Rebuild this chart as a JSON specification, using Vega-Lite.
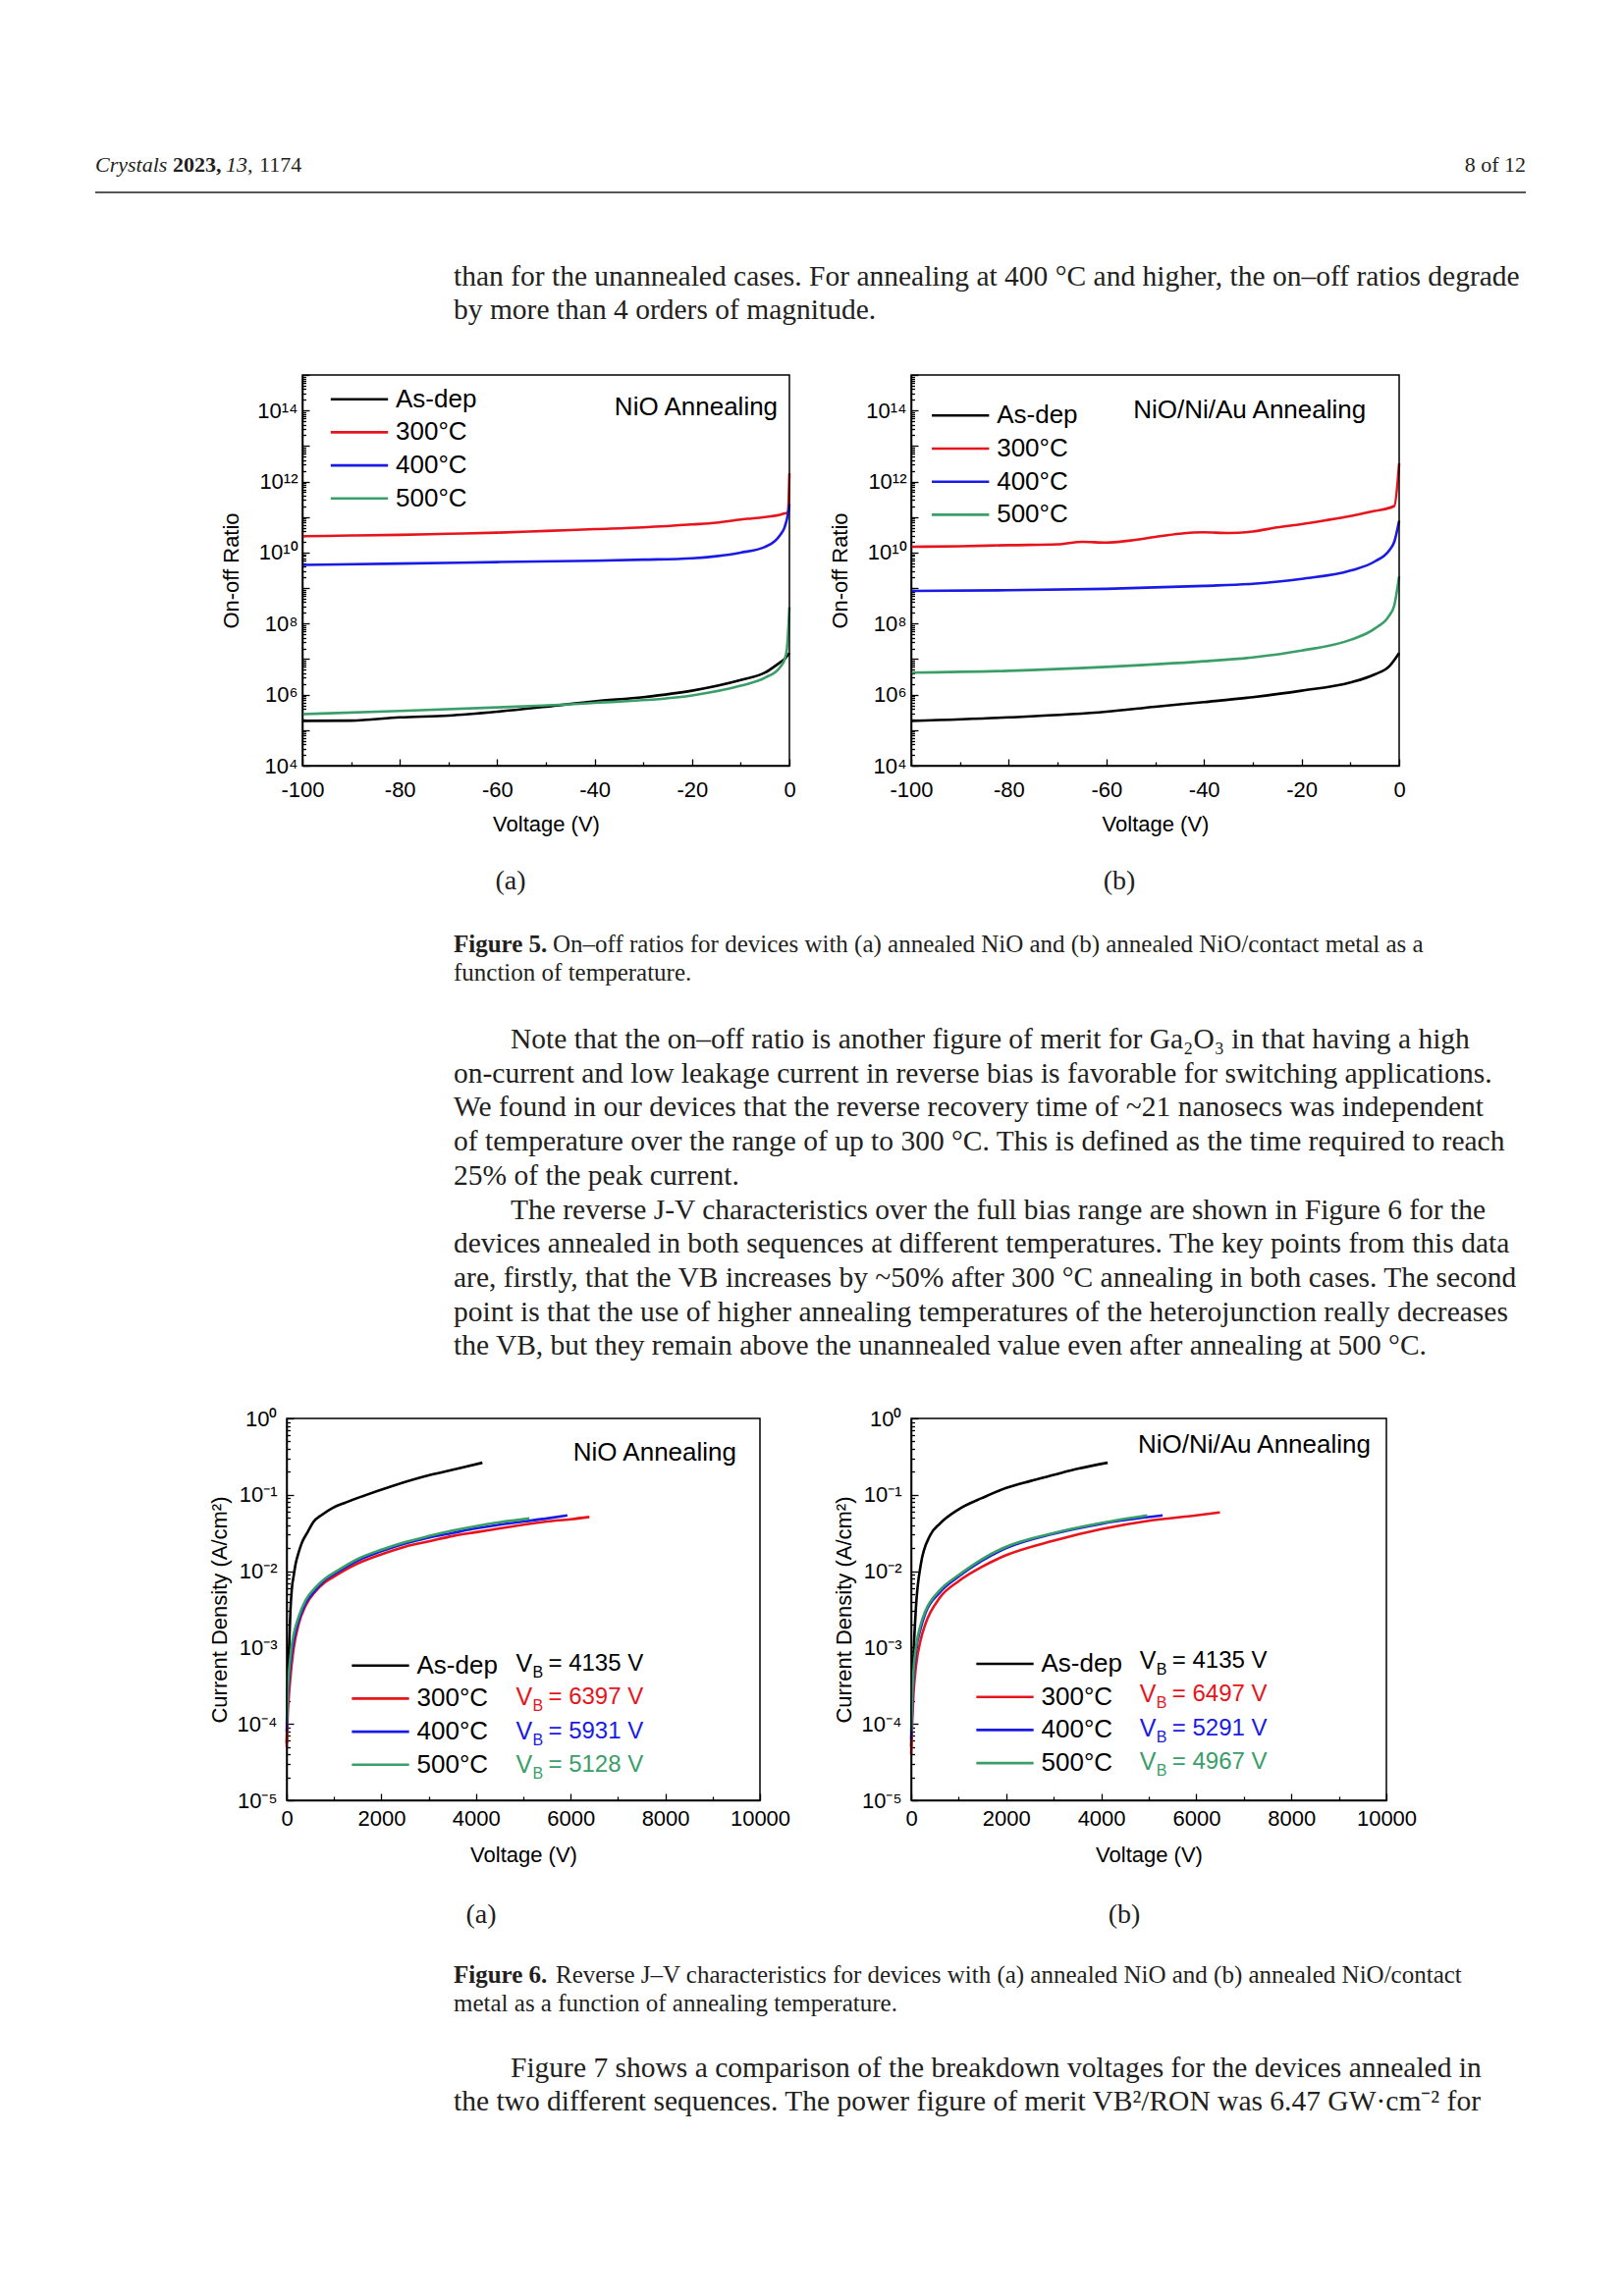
{
  "$schema": "https://vega.github.io/schema/vega-lite/v6.json",
  "background": "white",
  "padding": 0,
  "spacing": 0,
  "bounds": "flush",
  "config": {
    "view": {"stroke": null},
    "axis": {
      "labelFont": "Liberation Sans", "labelFontSize": 22, "labelColor": "black",
      "titleFont": "Liberation Sans", "titleFontSize": 22, "titleFontWeight": "normal", "titleColor": "black",
      "domainColor": "black", "domainWidth": 1.5, "tickColor": "black", "tickWidth": 1.3,
      "grid": false, "labelFlush": false, "labelOverlap": false, "labelBound": false, "zindex": 1
    },
    "legend": {
      "symbolType": "stroke", "symbolSize": 3400, "symbolStrokeWidth": 2.6,
      "labelFont": "Liberation Sans", "labelFontSize": 26, "labelColor": "black",
      "clipHeight": 25, "rowPadding": 6.7, "labelOffset": 6.5, "padding": 0, "labelLimit": 400
    }
  },
  "datasets": {
    "fig5a": [
      {"series": "As-dep", "voltage": -100, "ratio": 1.82e5}, {"series": "As-dep", "voltage": -90, "ratio": 1.85e5}, {"series": "As-dep", "voltage": -80, "ratio": 2.29e5}, {"series": "As-dep", "voltage": -70, "ratio": 2.57e5}, {"series": "As-dep", "voltage": -60, "ratio": 3.31e5}, {"series": "As-dep", "voltage": -50, "ratio": 4.57e5}, {"series": "As-dep", "voltage": -40, "ratio": 6.46e5}, {"series": "As-dep", "voltage": -30, "ratio": 8.51e5}, {"series": "As-dep", "voltage": -20, "ratio": 1.29e6}, {"series": "As-dep", "voltage": -10, "ratio": 2.57e6}, {"series": "As-dep", "voltage": -5, "ratio": 4.17e6}, {"series": "As-dep", "voltage": -2, "ratio": 7.94e6}, {"series": "As-dep", "voltage": -1, "ratio": 1.0e7}, {"series": "As-dep", "voltage": 0, "ratio": 1.48e7},
      {"series": "300°C", "voltage": -100, "ratio": 2.88e10}, {"series": "300°C", "voltage": -90, "ratio": 3.02e10}, {"series": "300°C", "voltage": -80, "ratio": 3.16e10}, {"series": "300°C", "voltage": -70, "ratio": 3.39e10}, {"series": "300°C", "voltage": -60, "ratio": 3.63e10}, {"series": "300°C", "voltage": -50, "ratio": 4.07e10}, {"series": "300°C", "voltage": -40, "ratio": 4.57e10}, {"series": "300°C", "voltage": -30, "ratio": 5.13e10}, {"series": "300°C", "voltage": -20, "ratio": 6.17e10}, {"series": "300°C", "voltage": -15, "ratio": 6.92e10}, {"series": "300°C", "voltage": -10, "ratio": 8.5e10}, {"series": "300°C", "voltage": -5, "ratio": 1.0e11}, {"series": "300°C", "voltage": -2, "ratio": 1.15e11}, {"series": "300°C", "voltage": -1, "ratio": 1.26e11}, {"series": "300°C", "voltage": -0.3, "ratio": 1.32e11}, {"series": "300°C", "voltage": 0, "ratio": 1.7e12},
      {"series": "400°C", "voltage": -100, "ratio": 4.5e9}, {"series": "400°C", "voltage": -80, "ratio": 4.9e9}, {"series": "400°C", "voltage": -60, "ratio": 5.4e9}, {"series": "400°C", "voltage": -40, "ratio": 5.9e9}, {"series": "400°C", "voltage": -30, "ratio": 6.3e9}, {"series": "400°C", "voltage": -20, "ratio": 6.9e9}, {"series": "400°C", "voltage": -15, "ratio": 7.9e9}, {"series": "400°C", "voltage": -10, "ratio": 1.0e10}, {"series": "400°C", "voltage": -5, "ratio": 1.45e10}, {"series": "400°C", "voltage": -3, "ratio": 2.1e10}, {"series": "400°C", "voltage": -2, "ratio": 3.0e10}, {"series": "400°C", "voltage": -1, "ratio": 5.1e10}, {"series": "400°C", "voltage": -0.5, "ratio": 8.9e10}, {"series": "400°C", "voltage": 0, "ratio": 2.3e11},
      {"series": "500°C", "voltage": -100, "ratio": 2.82e5}, {"series": "500°C", "voltage": -80, "ratio": 3.47e5}, {"series": "500°C", "voltage": -60, "ratio": 4.37e5}, {"series": "500°C", "voltage": -40, "ratio": 5.89e5}, {"series": "500°C", "voltage": -20, "ratio": 9.5e5}, {"series": "500°C", "voltage": -10, "ratio": 1.78e6}, {"series": "500°C", "voltage": -5, "ratio": 3.0e6}, {"series": "500°C", "voltage": -2, "ratio": 5.75e6}, {"series": "500°C", "voltage": -1, "ratio": 9.8e6}, {"series": "500°C", "voltage": -0.5, "ratio": 2.0e7}, {"series": "500°C", "voltage": 0, "ratio": 2.9e8}
    ],
    "fig5b": [
      {"series": "As-dep", "voltage": -100, "ratio": 1.82e5}, {"series": "As-dep", "voltage": -80, "ratio": 2.29e5}, {"series": "As-dep", "voltage": -60, "ratio": 3.31e5}, {"series": "As-dep", "voltage": -50, "ratio": 4.57e5}, {"series": "As-dep", "voltage": -40, "ratio": 6.17e5}, {"series": "As-dep", "voltage": -30, "ratio": 8.51e5}, {"series": "As-dep", "voltage": -20, "ratio": 1.29e6}, {"series": "As-dep", "voltage": -10, "ratio": 2.19e6}, {"series": "As-dep", "voltage": -5, "ratio": 3.72e6}, {"series": "As-dep", "voltage": -2, "ratio": 6.31e6}, {"series": "As-dep", "voltage": 0, "ratio": 1.48e7},
      {"series": "300°C", "voltage": -100, "ratio": 1.45e10}, {"series": "300°C", "voltage": -90, "ratio": 1.51e10}, {"series": "300°C", "voltage": -80, "ratio": 1.62e10}, {"series": "300°C", "voltage": -70, "ratio": 1.7e10}, {"series": "300°C", "voltage": -65, "ratio": 2.0e10}, {"series": "300°C", "voltage": -60, "ratio": 1.9e10}, {"series": "300°C", "voltage": -55, "ratio": 2.19e10}, {"series": "300°C", "voltage": -50, "ratio": 2.75e10}, {"series": "300°C", "voltage": -45, "ratio": 3.39e10}, {"series": "300°C", "voltage": -40, "ratio": 3.72e10}, {"series": "300°C", "voltage": -35, "ratio": 3.55e10}, {"series": "300°C", "voltage": -30, "ratio": 3.89e10}, {"series": "300°C", "voltage": -25, "ratio": 5.13e10}, {"series": "300°C", "voltage": -20, "ratio": 6.31e10}, {"series": "300°C", "voltage": -15, "ratio": 8.13e10}, {"series": "300°C", "voltage": -10, "ratio": 1.07e11}, {"series": "300°C", "voltage": -5, "ratio": 1.48e11}, {"series": "300°C", "voltage": -1, "ratio": 2.04e11}, {"series": "300°C", "voltage": 0, "ratio": 3.24e12},
      {"series": "400°C", "voltage": -100, "ratio": 8.3e8}, {"series": "400°C", "voltage": -80, "ratio": 8.7e8}, {"series": "400°C", "voltage": -60, "ratio": 9.5e8}, {"series": "400°C", "voltage": -40, "ratio": 1.15e9}, {"series": "400°C", "voltage": -30, "ratio": 1.32e9}, {"series": "400°C", "voltage": -20, "ratio": 1.82e9}, {"series": "400°C", "voltage": -10, "ratio": 3.09e9}, {"series": "400°C", "voltage": -5, "ratio": 5.6e9}, {"series": "400°C", "voltage": -2, "ratio": 1.17e10}, {"series": "400°C", "voltage": -1, "ratio": 2.0e10}, {"series": "400°C", "voltage": 0, "ratio": 7.9e10},
      {"series": "500°C", "voltage": -100, "ratio": 4.17e6}, {"series": "500°C", "voltage": -80, "ratio": 4.68e6}, {"series": "500°C", "voltage": -60, "ratio": 6.03e6}, {"series": "500°C", "voltage": -40, "ratio": 8.7e6}, {"series": "500°C", "voltage": -30, "ratio": 1.12e7}, {"series": "500°C", "voltage": -20, "ratio": 1.74e7}, {"series": "500°C", "voltage": -10, "ratio": 3.47e7}, {"series": "500°C", "voltage": -5, "ratio": 7.24e7}, {"series": "500°C", "voltage": -2, "ratio": 1.7e8}, {"series": "500°C", "voltage": -1, "ratio": 3.24e8}, {"series": "500°C", "voltage": 0, "ratio": 2.14e9}
    ],
    "fig6a": [
      {"series": "As-dep", "voltage": 0, "density": 5.6e-5}, {"series": "As-dep", "voltage": 20, "density": 2.5e-4}, {"series": "As-dep", "voltage": 50, "density": 1.0e-3}, {"series": "As-dep", "voltage": 80, "density": 3.16e-3}, {"series": "As-dep", "voltage": 107, "density": 5.75e-3}, {"series": "As-dep", "voltage": 150, "density": 8.9e-3}, {"series": "As-dep", "voltage": 190, "density": 1.26e-2}, {"series": "As-dep", "voltage": 250, "density": 1.74e-2}, {"series": "As-dep", "voltage": 313, "density": 2.29e-2}, {"series": "As-dep", "voltage": 450, "density": 3.31e-2}, {"series": "As-dep", "voltage": 560, "density": 4.37e-2}, {"series": "As-dep", "voltage": 750, "density": 5.5e-2}, {"series": "As-dep", "voltage": 973, "density": 6.76e-2}, {"series": "As-dep", "voltage": 1250, "density": 7.94e-2}, {"series": "As-dep", "voltage": 1550, "density": 9.33e-2}, {"series": "As-dep", "voltage": 2209, "density": 1.29e-1}, {"series": "As-dep", "voltage": 3034, "density": 1.82e-1}, {"series": "As-dep", "voltage": 3600, "density": 2.19e-1}, {"series": "As-dep", "voltage": 4135, "density": 2.63e-1},
      {"series": "300°C", "voltage": 0, "density": 5.0e-5}, {"series": "300°C", "voltage": 20, "density": 1.26e-4}, {"series": "300°C", "voltage": 50, "density": 2.51e-4}, {"series": "300°C", "voltage": 100, "density": 5.62e-4}, {"series": "300°C", "voltage": 150, "density": 1.0e-3}, {"series": "300°C", "voltage": 250, "density": 2.0e-3}, {"series": "300°C", "voltage": 400, "density": 3.55e-3}, {"series": "300°C", "voltage": 600, "density": 5.37e-3}, {"series": "300°C", "voltage": 800, "density": 7.08e-3}, {"series": "300°C", "voltage": 1000, "density": 8.51e-3}, {"series": "300°C", "voltage": 1500, "density": 1.26e-2}, {"series": "300°C", "voltage": 2000, "density": 1.66e-2}, {"series": "300°C", "voltage": 2500, "density": 2.09e-2}, {"series": "300°C", "voltage": 3000, "density": 2.45e-2}, {"series": "300°C", "voltage": 3500, "density": 2.88e-2}, {"series": "300°C", "voltage": 4000, "density": 3.24e-2}, {"series": "300°C", "voltage": 4500, "density": 3.63e-2}, {"series": "300°C", "voltage": 5000, "density": 4.07e-2}, {"series": "300°C", "voltage": 5500, "density": 4.47e-2}, {"series": "300°C", "voltage": 6000, "density": 4.79e-2}, {"series": "300°C", "voltage": 6397, "density": 5.13e-2},
      {"series": "400°C", "voltage": 0, "density": 7.94e-5}, {"series": "400°C", "voltage": 20, "density": 2.0e-4}, {"series": "400°C", "voltage": 50, "density": 3.98e-4}, {"series": "400°C", "voltage": 100, "density": 7.94e-4}, {"series": "400°C", "voltage": 150, "density": 1.26e-3}, {"series": "400°C", "voltage": 250, "density": 2.24e-3}, {"series": "400°C", "voltage": 400, "density": 3.8e-3}, {"series": "400°C", "voltage": 600, "density": 5.62e-3}, {"series": "400°C", "voltage": 800, "density": 7.59e-3}, {"series": "400°C", "voltage": 1000, "density": 9.12e-3}, {"series": "400°C", "voltage": 1500, "density": 1.38e-2}, {"series": "400°C", "voltage": 2000, "density": 1.82e-2}, {"series": "400°C", "voltage": 2500, "density": 2.29e-2}, {"series": "400°C", "voltage": 3000, "density": 2.75e-2}, {"series": "400°C", "voltage": 3500, "density": 3.16e-2}, {"series": "400°C", "voltage": 4000, "density": 3.63e-2}, {"series": "400°C", "voltage": 4500, "density": 4.07e-2}, {"series": "400°C", "voltage": 5000, "density": 4.47e-2}, {"series": "400°C", "voltage": 5500, "density": 4.9e-2}, {"series": "400°C", "voltage": 5931, "density": 5.37e-2},
      {"series": "500°C", "voltage": 0, "density": 1.0e-4}, {"series": "500°C", "voltage": 20, "density": 2.51e-4}, {"series": "500°C", "voltage": 50, "density": 5.01e-4}, {"series": "500°C", "voltage": 100, "density": 1.0e-3}, {"series": "500°C", "voltage": 150, "density": 1.51e-3}, {"series": "500°C", "voltage": 250, "density": 2.51e-3}, {"series": "500°C", "voltage": 400, "density": 4.17e-3}, {"series": "500°C", "voltage": 600, "density": 6.03e-3}, {"series": "500°C", "voltage": 800, "density": 7.94e-3}, {"series": "500°C", "voltage": 1000, "density": 9.55e-3}, {"series": "500°C", "voltage": 1500, "density": 1.45e-2}, {"series": "500°C", "voltage": 2000, "density": 1.91e-2}, {"series": "500°C", "voltage": 2500, "density": 2.4e-2}, {"series": "500°C", "voltage": 3000, "density": 2.88e-2}, {"series": "500°C", "voltage": 3500, "density": 3.39e-2}, {"series": "500°C", "voltage": 4000, "density": 3.89e-2}, {"series": "500°C", "voltage": 4500, "density": 4.37e-2}, {"series": "500°C", "voltage": 5128, "density": 4.9e-2}
    ],
    "fig6b": [
      {"series": "As-dep", "voltage": 0, "density": 5.0e-5}, {"series": "As-dep", "voltage": 20, "density": 1.58e-4}, {"series": "As-dep", "voltage": 50, "density": 7.59e-4}, {"series": "As-dep", "voltage": 100, "density": 3.31e-3}, {"series": "As-dep", "voltage": 200, "density": 1.2e-2}, {"series": "As-dep", "voltage": 400, "density": 2.95e-2}, {"series": "As-dep", "voltage": 600, "density": 4.17e-2}, {"series": "As-dep", "voltage": 1000, "density": 6.46e-2}, {"series": "As-dep", "voltage": 1500, "density": 9.12e-2}, {"series": "As-dep", "voltage": 2000, "density": 1.23e-1}, {"series": "As-dep", "voltage": 2500, "density": 1.51e-1}, {"series": "As-dep", "voltage": 3000, "density": 1.82e-1}, {"series": "As-dep", "voltage": 3500, "density": 2.19e-1}, {"series": "As-dep", "voltage": 4135, "density": 2.63e-1},
      {"series": "300°C", "voltage": 0, "density": 3.98e-5}, {"series": "300°C", "voltage": 20, "density": 1.0e-4}, {"series": "300°C", "voltage": 50, "density": 2.51e-4}, {"series": "300°C", "voltage": 100, "density": 5.62e-4}, {"series": "300°C", "voltage": 200, "density": 1.26e-3}, {"series": "300°C", "voltage": 300, "density": 2.04e-3}, {"series": "300°C", "voltage": 600, "density": 4.47e-3}, {"series": "300°C", "voltage": 1000, "density": 7.41e-3}, {"series": "300°C", "voltage": 1500, "density": 1.15e-2}, {"series": "300°C", "voltage": 2000, "density": 1.62e-2}, {"series": "300°C", "voltage": 3000, "density": 2.51e-2}, {"series": "300°C", "voltage": 4000, "density": 3.55e-2}, {"series": "300°C", "voltage": 5000, "density": 4.57e-2}, {"series": "300°C", "voltage": 6000, "density": 5.37e-2}, {"series": "300°C", "voltage": 6497, "density": 5.89e-2},
      {"series": "400°C", "voltage": 0, "density": 6.31e-5}, {"series": "400°C", "voltage": 20, "density": 1.58e-4}, {"series": "400°C", "voltage": 50, "density": 3.98e-4}, {"series": "400°C", "voltage": 100, "density": 8.91e-4}, {"series": "400°C", "voltage": 200, "density": 1.78e-3}, {"series": "400°C", "voltage": 300, "density": 2.82e-3}, {"series": "400°C", "voltage": 600, "density": 5.25e-3}, {"series": "400°C", "voltage": 1000, "density": 8.51e-3}, {"series": "400°C", "voltage": 1500, "density": 1.38e-2}, {"series": "400°C", "voltage": 2000, "density": 2.0e-2}, {"series": "400°C", "voltage": 3000, "density": 3.09e-2}, {"series": "400°C", "voltage": 4000, "density": 4.17e-2}, {"series": "400°C", "voltage": 5291, "density": 5.37e-2},
      {"series": "500°C", "voltage": 0, "density": 7.94e-5}, {"series": "500°C", "voltage": 20, "density": 2.0e-4}, {"series": "500°C", "voltage": 50, "density": 5.01e-4}, {"series": "500°C", "voltage": 100, "density": 1.0e-3}, {"series": "500°C", "voltage": 200, "density": 2.0e-3}, {"series": "500°C", "voltage": 300, "density": 3.02e-3}, {"series": "500°C", "voltage": 600, "density": 5.62e-3}, {"series": "500°C", "voltage": 1000, "density": 8.91e-3}, {"series": "500°C", "voltage": 1500, "density": 1.45e-2}, {"series": "500°C", "voltage": 2000, "density": 2.09e-2}, {"series": "500°C", "voltage": 3000, "density": 3.16e-2}, {"series": "500°C", "voltage": 4000, "density": 4.27e-2}, {"series": "500°C", "voltage": 4967, "density": 5.37e-2}
    ],
    "vb6a": [
      {"series": "As-dep", "vb": "= 4135 V"}, {"series": "300°C", "vb": "= 6397 V"}, {"series": "400°C", "vb": "= 5931 V"}, {"series": "500°C", "vb": "= 5128 V"}
    ],
    "vb6b": [
      {"series": "As-dep", "vb": "= 4135 V"}, {"series": "300°C", "vb": "= 6497 V"}, {"series": "400°C", "vb": "= 5291 V"}, {"series": "500°C", "vb": "= 4967 V"}
    ]
  },
  "vconcat": [
    {
      "width": 1654, "height": 382,
      "data": {"values": [{}]},
      "layer": [
        {"mark": {"type": "text", "text": "Crystals", "font": "Liberation Serif", "fontSize": 22, "fontStyle": "italic", "align": "left", "baseline": "alphabetic", "color": "#231f20"}, "encoding": {"x": {"value": 97}, "y": {"value": 175}}},
        {"mark": {"type": "text", "text": "2023,", "font": "Liberation Serif", "fontSize": 22, "fontWeight": "bold", "align": "left", "baseline": "alphabetic", "color": "#231f20"}, "encoding": {"x": {"value": 176}, "y": {"value": 175}}},
        {"mark": {"type": "text", "text": "13,", "font": "Liberation Serif", "fontSize": 22, "fontStyle": "italic", "align": "left", "baseline": "alphabetic", "color": "#231f20"}, "encoding": {"x": {"value": 230}, "y": {"value": 175}}},
        {"mark": {"type": "text", "text": "1174", "font": "Liberation Serif", "fontSize": 22, "align": "left", "baseline": "alphabetic", "color": "#231f20"}, "encoding": {"x": {"value": 264}, "y": {"value": 175}}},
        {"mark": {"type": "text", "text": "8 of 12", "font": "Liberation Serif", "fontSize": 22, "align": "right", "baseline": "alphabetic", "color": "#231f20"}, "encoding": {"x": {"value": 1554}, "y": {"value": 175}}},
        {"mark": {"type": "rule", "color": "#231f20", "strokeWidth": 1.3}, "encoding": {"x": {"value": 97}, "x2": {"value": 1554}, "y": {"value": 196}}},
        {"mark": {"type": "text", "font": "Liberation Serif", "fontSize": 29.5, "align": "left", "baseline": "alphabetic", "color": "#231f20", "lineHeight": 34,
          "text": ["than for the unannealed cases. For annealing at 400 °C and higher, the on–off ratios degrade", "by more than 4 orders of magnitude."]},
         "encoding": {"x": {"value": 462}, "y": {"value": 291}}}
      ]
    },
    {
      "width": 1654, "height": 398,
      "layer": [
        {
          "layer": [
            {
              "data": {"name": "fig5a"},
              "mark": {"type": "line", "strokeWidth": 2.6, "interpolate": "monotone"},
              "encoding": {
                "x": {"field": "voltage", "type": "quantitative",
                  "scale": {"domain": [-100, 0], "range": [308, 804], "nice": false, "zero": false},
                  "axis": {"orient": "bottom", "values": [-100, -90, -80, -70, -60, -50, -40, -30, -20, -10, 0],
                    "labelExpr": "datum.value % 20 == 0 ? '' + datum.value : ''",
                    "tickSize": {"condition": {"test": "datum.value % 20 == 0", "value": -7}, "value": -4},
                    "labelPadding": 21, "title": "Voltage (V)", "titlePadding": 11}},
                "y": {"field": "ratio", "type": "quantitative",
                  "scale": {"type": "log", "domain": [1e4, 1e15], "range": [398, 0], "nice": false},
                  "axis": {"orient": "left", "offset": -308,
                    "values": [1e4,2e4,3e4,4e4,5e4,6e4,7e4,8e4,9e4,1e5,2e5,3e5,4e5,5e5,6e5,7e5,8e5,9e5,1e6,2e6,3e6,4e6,5e6,6e6,7e6,8e6,9e6,1e7,2e7,3e7,4e7,5e7,6e7,7e7,8e7,9e7,1e8,2e8,3e8,4e8,5e8,6e8,7e8,8e8,9e8,1e9,2e9,3e9,4e9,5e9,6e9,7e9,8e9,9e9,1e10,2e10,3e10,4e10,5e10,6e10,7e10,8e10,9e10,1e11,2e11,3e11,4e11,5e11,6e11,7e11,8e11,9e11,1e12,2e12,3e12,4e12,5e12,6e12,7e12,8e12,9e12,1e13,2e13,3e13,4e13,5e13,6e13,7e13,8e13,9e13,1e14,2e14,3e14,4e14,5e14,6e14,7e14,8e14,9e14,1e15],
                    "labelExpr": "datum.value == 1e4 ? '10⁴' : datum.value == 1e6 ? '10⁶' : datum.value == 1e8 ? '10⁸' : datum.value == 1e10 ? '10¹⁰' : datum.value == 1e12 ? '10¹²' : datum.value == 1e14 ? '10¹⁴' : ''",
                    "tickSize": {"condition": {"test": "abs(log(datum.value)/LN10 - round(log(datum.value)/LN10)) < 0.001", "value": -7}, "value": -3.5},
                    "labelPadding": 12, "title": "On-off Ratio", "titlePadding": 14}},
                "color": {"field": "series", "type": "nominal",
                  "scale": {"domain": ["As-dep", "300°C", "400°C", "500°C"], "range": ["#000000", "#e8141c", "#1a1ae6", "#3a9e68"]},
                  "legend": {"orient": "none", "legendX": 335.5, "legendY": 12.2, "title": null}}
              }
            },
            {"data": {"values": [{}]}, "mark": {"type": "rect", "filled": false, "color": "black", "strokeWidth": 1.5},
             "encoding": {"x": {"datum": -100}, "x2": {"datum": 0}, "y": {"datum": 1e4}, "y2": {"datum": 1e15}}},
            {"data": {"values": [{}]}, "mark": {"type": "text", "text": "NiO Annealing", "align": "right", "baseline": "middle", "font": "Liberation Sans", "fontSize": 26, "color": "black"},
             "encoding": {"x": {"datum": -2.4}, "y": {"datum": 1.2e14}}}
          ]
        },
        {
          "layer": [
            {
              "data": {"name": "fig5b"},
              "mark": {"type": "line", "strokeWidth": 2.6, "interpolate": "monotone"},
              "encoding": {
                "x": {"field": "voltage", "type": "quantitative",
                  "scale": {"domain": [-100, 0], "range": [928, 1425], "nice": false, "zero": false},
                  "axis": {"orient": "bottom", "values": [-100, -90, -80, -70, -60, -50, -40, -30, -20, -10, 0],
                    "labelExpr": "datum.value % 20 == 0 ? '' + datum.value : ''",
                    "tickSize": {"condition": {"test": "datum.value % 20 == 0", "value": -7}, "value": -4},
                    "labelPadding": 21, "title": "Voltage (V)", "titlePadding": 11}},
                "y": {"field": "ratio", "type": "quantitative",
                  "scale": {"type": "log", "domain": [1e4, 1e15], "range": [398, 0], "nice": false},
                  "axis": {"orient": "left", "offset": -928,
                    "values": [1e4,2e4,3e4,4e4,5e4,6e4,7e4,8e4,9e4,1e5,2e5,3e5,4e5,5e5,6e5,7e5,8e5,9e5,1e6,2e6,3e6,4e6,5e6,6e6,7e6,8e6,9e6,1e7,2e7,3e7,4e7,5e7,6e7,7e7,8e7,9e7,1e8,2e8,3e8,4e8,5e8,6e8,7e8,8e8,9e8,1e9,2e9,3e9,4e9,5e9,6e9,7e9,8e9,9e9,1e10,2e10,3e10,4e10,5e10,6e10,7e10,8e10,9e10,1e11,2e11,3e11,4e11,5e11,6e11,7e11,8e11,9e11,1e12,2e12,3e12,4e12,5e12,6e12,7e12,8e12,9e12,1e13,2e13,3e13,4e13,5e13,6e13,7e13,8e13,9e13,1e14,2e14,3e14,4e14,5e14,6e14,7e14,8e14,9e14,1e15],
                    "labelExpr": "datum.value == 1e4 ? '10⁴' : datum.value == 1e6 ? '10⁶' : datum.value == 1e8 ? '10⁸' : datum.value == 1e10 ? '10¹⁰' : datum.value == 1e12 ? '10¹²' : datum.value == 1e14 ? '10¹⁴' : ''",
                    "tickSize": {"condition": {"test": "abs(log(datum.value)/LN10 - round(log(datum.value)/LN10)) < 0.001", "value": -7}, "value": -3.5},
                    "labelPadding": 12, "title": "On-off Ratio", "titlePadding": 14}},
                "color": {"field": "series", "type": "nominal",
                  "scale": {"domain": ["As-dep", "300°C", "400°C", "500°C"], "range": ["#000000", "#e8141c", "#1a1ae6", "#3a9e68"]},
                  "legend": {"orient": "none", "legendX": 947.7, "legendY": 28.8, "title": null}}
              }
            },
            {"data": {"values": [{}]}, "mark": {"type": "rect", "filled": false, "color": "black", "strokeWidth": 1.5},
             "encoding": {"x": {"datum": -100}, "x2": {"datum": 0}, "y": {"datum": 1e4}, "y2": {"datum": 1e15}}},
            {"data": {"values": [{}]}, "mark": {"type": "text", "text": "NiO/Ni/Au Annealing", "align": "right", "baseline": "middle", "font": "Liberation Sans", "fontSize": 26, "color": "black"},
             "encoding": {"x": {"datum": -6.8}, "y": {"datum": 1e14}}}
          ]
        }
      ],
      "resolve": {"scale": {"x": "independent", "y": "independent", "color": "independent"}, "axis": {"x": "independent", "y": "independent"}, "legend": {"color": "independent"}}
    },
    {
      "width": 1654, "height": 665,
      "data": {"values": [{}]},
      "layer": [
        {"mark": {"type": "text", "text": "(a)", "font": "Liberation Serif", "fontSize": 28, "align": "center", "baseline": "alphabetic", "color": "#231f20"}, "encoding": {"x": {"value": 520}, "y": {"value": 126}}},
        {"mark": {"type": "text", "text": "(b)", "font": "Liberation Serif", "fontSize": 28, "align": "center", "baseline": "alphabetic", "color": "#231f20"}, "encoding": {"x": {"value": 1140}, "y": {"value": 126}}},
        {"mark": {"type": "text", "text": "Figure 5.", "font": "Liberation Serif", "fontSize": 25, "fontWeight": "bold", "align": "left", "baseline": "alphabetic", "color": "#231f20"}, "encoding": {"x": {"value": 462}, "y": {"value": 190}}},
        {"mark": {"type": "text", "text": "On–off ratios for devices with (a) annealed NiO and (b) annealed NiO/contact metal as a", "font": "Liberation Serif", "fontSize": 25, "align": "left", "baseline": "alphabetic", "color": "#231f20"}, "encoding": {"x": {"value": 563}, "y": {"value": 190}}},
        {"mark": {"type": "text", "text": "function of temperature.", "font": "Liberation Serif", "fontSize": 25, "align": "left", "baseline": "alphabetic", "color": "#231f20"}, "encoding": {"x": {"value": 462}, "y": {"value": 219}}},
        {"mark": {"type": "text", "text": "Note that the on–off ratio is another figure of merit for Ga₂O₃ in that having a high", "font": "Liberation Serif", "fontSize": 29.5, "align": "left", "baseline": "alphabetic", "color": "#231f20"},
         "encoding": {"x": {"value": 520}, "y": {"value": 288}}},
        {"mark": {"type": "text", "font": "Liberation Serif", "fontSize": 29.5, "align": "left", "baseline": "alphabetic", "color": "#231f20", "lineHeight": 34.7,
          "text": [
            "on-current and low leakage current in reverse bias is favorable for switching applications.",
            "We found in our devices that the reverse recovery time of ~21 nanosecs was independent",
            "of temperature over the range of up to 300 °C. This is defined as the time required to reach",
            "25% of the peak current."
          ]},
         "encoding": {"x": {"value": 462}, "y": {"value": 322.7}}},
        {"mark": {"type": "text", "text": "The reverse J-V characteristics over the full bias range are shown in Figure 6 for the", "font": "Liberation Serif", "fontSize": 29.5, "align": "left", "baseline": "alphabetic", "color": "#231f20"},
         "encoding": {"x": {"value": 520}, "y": {"value": 461.5}}},
        {"mark": {"type": "text", "font": "Liberation Serif", "fontSize": 29.5, "align": "left", "baseline": "alphabetic", "color": "#231f20", "lineHeight": 34.7,
          "text": [
            "devices annealed in both sequences at different temperatures. The key points from this data",
            "are, firstly, that the VB increases by ~50% after 300 °C annealing in both cases. The second",
            "point is that the use of higher annealing temperatures of the heterojunction really decreases",
            "the VB, but they remain above the unannealed value even after annealing at 500 °C."
          ]},
         "encoding": {"x": {"value": 462}, "y": {"value": 496.2}}}
      ]
    },
    {
      "width": 1654, "height": 389,
      "layer": [
        {
          "layer": [
            {
              "layer": [
                {
                  "data": {"name": "fig6a"},
                  "mark": {"type": "line", "strokeWidth": 2.6, "interpolate": "monotone"},
                  "encoding": {
                    "x": {"field": "voltage", "type": "quantitative",
                      "scale": {"domain": [0, 10000], "range": [292, 774], "nice": false, "zero": false},
                      "axis": {"orient": "bottom", "values": [0, 1000, 2000, 3000, 4000, 5000, 6000, 7000, 8000, 9000, 10000],
                        "labelExpr": "datum.value % 2000 == 0 ? '' + datum.value : ''",
                        "tickSize": {"condition": {"test": "datum.value % 2000 == 0", "value": -7}, "value": -4},
                        "labelPadding": 15, "title": "Voltage (V)", "titlePadding": 13}},
                    "y": {"field": "density", "type": "quantitative",
                      "scale": {"type": "log", "domain": [1e-5, 1], "range": [389, 0], "nice": false},
                      "axis": {"orient": "left", "offset": -292,
                        "values": [1e-5,2e-5,3e-5,4e-5,5e-5,6e-5,7e-5,8e-5,9e-5,1e-4,2e-4,3e-4,4e-4,5e-4,6e-4,7e-4,8e-4,9e-4,1e-3,2e-3,3e-3,4e-3,5e-3,6e-3,7e-3,8e-3,9e-3,1e-2,2e-2,3e-2,4e-2,5e-2,6e-2,7e-2,8e-2,9e-2,1e-1,2e-1,3e-1,4e-1,5e-1,6e-1,7e-1,8e-1,9e-1,1],
                        "labelExpr": "datum.value == 1 ? '10⁰' : datum.value == 0.1 ? '10⁻¹' : datum.value == 0.01 ? '10⁻²' : datum.value == 0.001 ? '10⁻³' : datum.value == 0.0001 ? '10⁻⁴' : datum.value == 0.00001 ? '10⁻⁵' : ''",
                        "tickSize": {"condition": {"test": "abs(log(datum.value)/LN10 - round(log(datum.value)/LN10)) < 0.001", "value": -7}, "value": -3.5},
                        "labelPadding": 17, "title": "Current Density (A/cm²)", "titlePadding": 6}},
                    "color": {"field": "series", "type": "nominal",
                      "scale": {"domain": ["As-dep", "300°C", "400°C", "500°C"], "range": ["#000000", "#e8141c", "#1a1ae6", "#3a9e68"]},
                      "legend": {"orient": "none", "legendX": 357, "legendY": 239.2, "title": null}}
                  }
                },
                {"data": {"values": [{}]}, "mark": {"type": "rect", "filled": false, "color": "black", "strokeWidth": 1.5},
                 "encoding": {"x": {"datum": 0}, "x2": {"datum": 10000}, "y": {"datum": 1e-5}, "y2": {"datum": 1}}},
                {"data": {"values": [{}]}, "mark": {"type": "text", "text": "NiO Annealing", "align": "right", "baseline": "middle", "font": "Liberation Sans", "fontSize": 26, "color": "black"},
                 "encoding": {"x": {"datum": 9502}, "y": {"datum": 0.355}}}
              ]
            },
            {
              "data": {"name": "vb6a"},
              "encoding": {
                "x": {"datum": 4844},
                "y": {"field": "series", "type": "nominal", "scale": {"type": "point", "domain": ["As-dep", "300°C", "400°C", "500°C"], "range": [250, 353], "padding": 0}, "axis": null},
                "color": {"field": "series", "type": "nominal", "legend": null}
              },
              "layer": [
                {"mark": {"type": "text", "text": "V", "align": "left", "baseline": "middle", "font": "Liberation Sans", "fontSize": 25}},
                {"mark": {"type": "text", "text": "B", "align": "left", "baseline": "middle", "font": "Liberation Sans", "fontSize": 16, "dx": 17, "dy": 9}},
                {"mark": {"type": "text", "align": "left", "baseline": "middle", "font": "Liberation Sans", "fontSize": 24, "dx": 33}, "encoding": {"text": {"field": "vb"}}}
              ]
            }
          ],
          "resolve": {"scale": {"y": "independent"}}
        },
        {
          "layer": [
            {
              "layer": [
                {
                  "data": {"name": "fig6b"},
                  "mark": {"type": "line", "strokeWidth": 2.6, "interpolate": "monotone"},
                  "encoding": {
                    "x": {"field": "voltage", "type": "quantitative",
                      "scale": {"domain": [0, 10000], "range": [928, 1412], "nice": false, "zero": false},
                      "axis": {"orient": "bottom", "values": [0, 1000, 2000, 3000, 4000, 5000, 6000, 7000, 8000, 9000, 10000],
                        "labelExpr": "datum.value % 2000 == 0 ? '' + datum.value : ''",
                        "tickSize": {"condition": {"test": "datum.value % 2000 == 0", "value": -7}, "value": -4},
                        "labelPadding": 15, "title": "Voltage (V)", "titlePadding": 13}},
                    "y": {"field": "density", "type": "quantitative",
                      "scale": {"type": "log", "domain": [1e-5, 1], "range": [389, 0], "nice": false},
                      "axis": {"orient": "left", "offset": -928,
                        "values": [1e-5,2e-5,3e-5,4e-5,5e-5,6e-5,7e-5,8e-5,9e-5,1e-4,2e-4,3e-4,4e-4,5e-4,6e-4,7e-4,8e-4,9e-4,1e-3,2e-3,3e-3,4e-3,5e-3,6e-3,7e-3,8e-3,9e-3,1e-2,2e-2,3e-2,4e-2,5e-2,6e-2,7e-2,8e-2,9e-2,1e-1,2e-1,3e-1,4e-1,5e-1,6e-1,7e-1,8e-1,9e-1,1],
                        "labelExpr": "datum.value == 1 ? '10⁰' : datum.value == 0.1 ? '10⁻¹' : datum.value == 0.01 ? '10⁻²' : datum.value == 0.001 ? '10⁻³' : datum.value == 0.0001 ? '10⁻⁴' : datum.value == 0.00001 ? '10⁻⁵' : ''",
                        "tickSize": {"condition": {"test": "abs(log(datum.value)/LN10 - round(log(datum.value)/LN10)) < 0.001", "value": -7}, "value": -3.5},
                        "labelPadding": 17, "title": "Current Density (A/cm²)", "titlePadding": 6}},
                    "color": {"field": "series", "type": "nominal",
                      "scale": {"domain": ["As-dep", "300°C", "400°C", "500°C"], "range": ["#000000", "#e8141c", "#1a1ae6", "#3a9e68"]},
                      "legend": {"orient": "none", "legendX": 993, "legendY": 237.5, "title": null}}
                  }
                },
                {"data": {"values": [{}]}, "mark": {"type": "rect", "filled": false, "color": "black", "strokeWidth": 1.5},
                 "encoding": {"x": {"datum": 0}, "x2": {"datum": 10000}, "y": {"datum": 1e-5}, "y2": {"datum": 1}}},
                {"data": {"values": [{}]}, "mark": {"type": "text", "text": "NiO/Ni/Au Annealing", "align": "right", "baseline": "middle", "font": "Liberation Sans", "fontSize": 26, "color": "black"},
                 "encoding": {"x": {"datum": 9669}, "y": {"datum": 0.45}}}
              ]
            },
            {
              "data": {"name": "vb6b"},
              "encoding": {
                "x": {"datum": 4810},
                "y": {"field": "series", "type": "nominal", "scale": {"type": "point", "domain": ["As-dep", "300°C", "400°C", "500°C"], "range": [247, 350], "padding": 0}, "axis": null},
                "color": {"field": "series", "type": "nominal", "legend": null}
              },
              "layer": [
                {"mark": {"type": "text", "text": "V", "align": "left", "baseline": "middle", "font": "Liberation Sans", "fontSize": 25}},
                {"mark": {"type": "text", "text": "B", "align": "left", "baseline": "middle", "font": "Liberation Sans", "fontSize": 16, "dx": 17, "dy": 9}},
                {"mark": {"type": "text", "align": "left", "baseline": "middle", "font": "Liberation Sans", "fontSize": 24, "dx": 33}, "encoding": {"text": {"field": "vb"}}}
              ]
            }
          ],
          "resolve": {"scale": {"y": "independent"}}
        }
      ],
      "resolve": {"scale": {"x": "independent", "y": "independent", "color": "independent"}, "axis": {"x": "independent", "y": "independent"}, "legend": {"color": "independent"}}
    },
    {
      "width": 1654, "height": 505,
      "data": {"values": [{}]},
      "layer": [
        {"mark": {"type": "text", "text": "(a)", "font": "Liberation Serif", "fontSize": 28, "align": "center", "baseline": "alphabetic", "color": "#231f20"}, "encoding": {"x": {"value": 490}, "y": {"value": 125}}},
        {"mark": {"type": "text", "text": "(b)", "font": "Liberation Serif", "fontSize": 28, "align": "center", "baseline": "alphabetic", "color": "#231f20"}, "encoding": {"x": {"value": 1145}, "y": {"value": 125}}},
        {"mark": {"type": "text", "text": "Figure 6.", "font": "Liberation Serif", "fontSize": 25, "fontWeight": "bold", "align": "left", "baseline": "alphabetic", "color": "#231f20"}, "encoding": {"x": {"value": 462}, "y": {"value": 186}}},
        {"mark": {"type": "text", "text": "Reverse J–V characteristics for devices with (a) annealed NiO and (b) annealed NiO/contact", "font": "Liberation Serif", "fontSize": 25, "align": "left", "baseline": "alphabetic", "color": "#231f20"}, "encoding": {"x": {"value": 566}, "y": {"value": 186}}},
        {"mark": {"type": "text", "text": "metal as a function of annealing temperature.", "font": "Liberation Serif", "fontSize": 25, "align": "left", "baseline": "alphabetic", "color": "#231f20"}, "encoding": {"x": {"value": 462}, "y": {"value": 215}}},
        {"mark": {"type": "text", "text": "Figure 7 shows a comparison of the breakdown voltages for the devices annealed in", "font": "Liberation Serif", "fontSize": 29.5, "align": "left", "baseline": "alphabetic", "color": "#231f20"},
         "encoding": {"x": {"value": 520}, "y": {"value": 282}}},
        {"mark": {"type": "text", "text": "the two different sequences. The power figure of merit VB²/RON was 6.47 GW·cm⁻² for", "font": "Liberation Serif", "fontSize": 29.5, "align": "left", "baseline": "alphabetic", "color": "#231f20"},
         "encoding": {"x": {"value": 462}, "y": {"value": 316}}}
      ]
    }
  ]
}
